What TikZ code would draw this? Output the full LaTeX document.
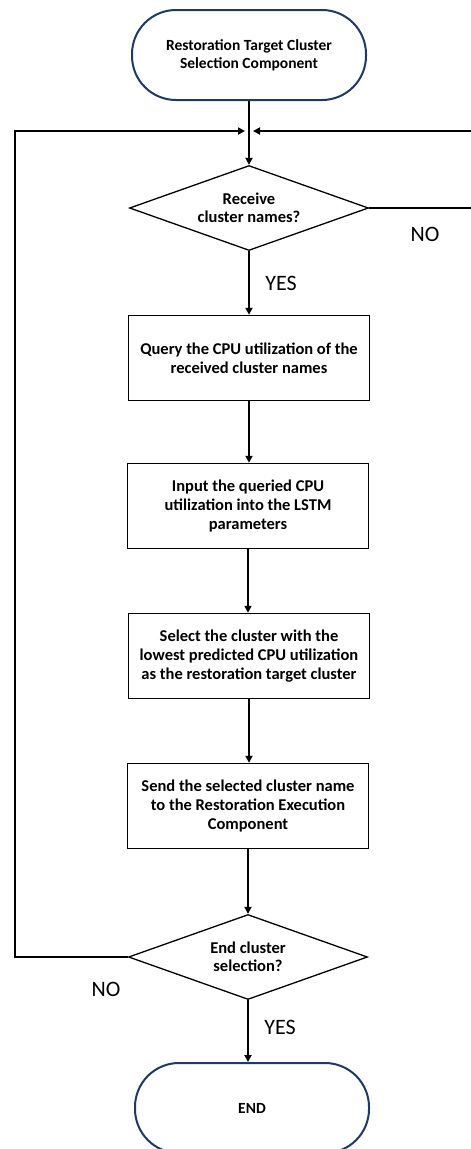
\documentclass[tikz,border=0pt]{standalone}
\usepackage{fontspec}
\setmainfont{Carlito}
\usetikzlibrary{arrows.meta,shapes.geometric}
\definecolor{termblue}{HTML}{1F3864}
\tikzset{
  x=1pt, y=-1pt,
  flow/.style={line width=1.8pt, -{Triangle[length=7pt,width=7pt]}},
  terminal/.style={draw=termblue, line width=2pt, rounded corners=44pt,
    minimum width=234pt, minimum height=90pt, align=center,
    font=\bfseries\fontsize{15.5}{18}\selectfont},
  procbox/.style={draw, line width=1.5pt, minimum width=241pt, minimum height=85pt,
    align=center, inner sep=2pt, font=\bfseries\fontsize{16.5}{19}\selectfont},
  decision/.style={draw, diamond, line width=1.3pt, aspect=2.8, inner sep=0pt,
    minimum width=239pt, minimum height=85pt, align=center,
    font=\bfseries\fontsize{16.5}{18}\selectfont},
  answer/.style={font=\fontsize{22}{24}\selectfont, inner sep=0pt}
}
\begin{document}
\begin{tikzpicture}
\useasboundingbox (0,0) rectangle (471,1149);
\clip (0,0) rectangle (471,1149);
\fill[white] (0,0) rectangle (471,1149);

% nodes of the flow
\node[terminal] (start) at (249,55) {Restoration Target Cluster\\Selection Component};
\node[decision] (recv) at (249,208) {Receive\\cluster names?};
\node[procbox] (query) at (249,358) {Query the CPU utilization of the\\received cluster names};
\node[procbox] (input) at (248,506) {Input the queried CPU\\utilization into the LSTM\\parameters};
\node[procbox] (select) at (249,656) {Select the cluster with the\\lowest predicted CPU utilization\\as the restoration target cluster};
\node[procbox] (send) at (248,806) {Send the selected cluster name\\to the Restoration Execution\\Component};
\node[decision] (endsel) at (248,957) {End cluster\\selection?};
\node[terminal] (stop) at (252,1108) {END};

% junction where the loops rejoin the main line
\coordinate (jl) at (245,131);
\coordinate (jr) at (253,131);
\coordinate (farleft) at (15,957);
\coordinate (farright) at (500,208);

% main line
\draw[flow] (start.south) -- (recv.north);
\draw[flow] (recv.south) -- (query.north);
\draw[flow] (query.south) -- (query.south |- input.north);
\draw[flow] (input.south) -- (input.south |- select.north);
\draw[flow] (select.south) -- (select.south |- send.north);
\draw[flow] (send.south) -- (endsel.north);
\draw[flow] (endsel.south) -- (endsel.south |- stop.north);

% loops back to the junction
\draw[flow] (recv.east) -- (farright) |- (jr);
\draw[flow] (endsel.west) -- (farleft) |- (jl);

% branch labels
\node[answer] (yes1) at (281,283) {YES};
\node[answer] (no1) at (425,234) {NO};
\node[answer] (no2) at (106,989) {NO};
\node[answer] (yes2) at (280,1027) {YES};
\end{tikzpicture}
\end{document}
